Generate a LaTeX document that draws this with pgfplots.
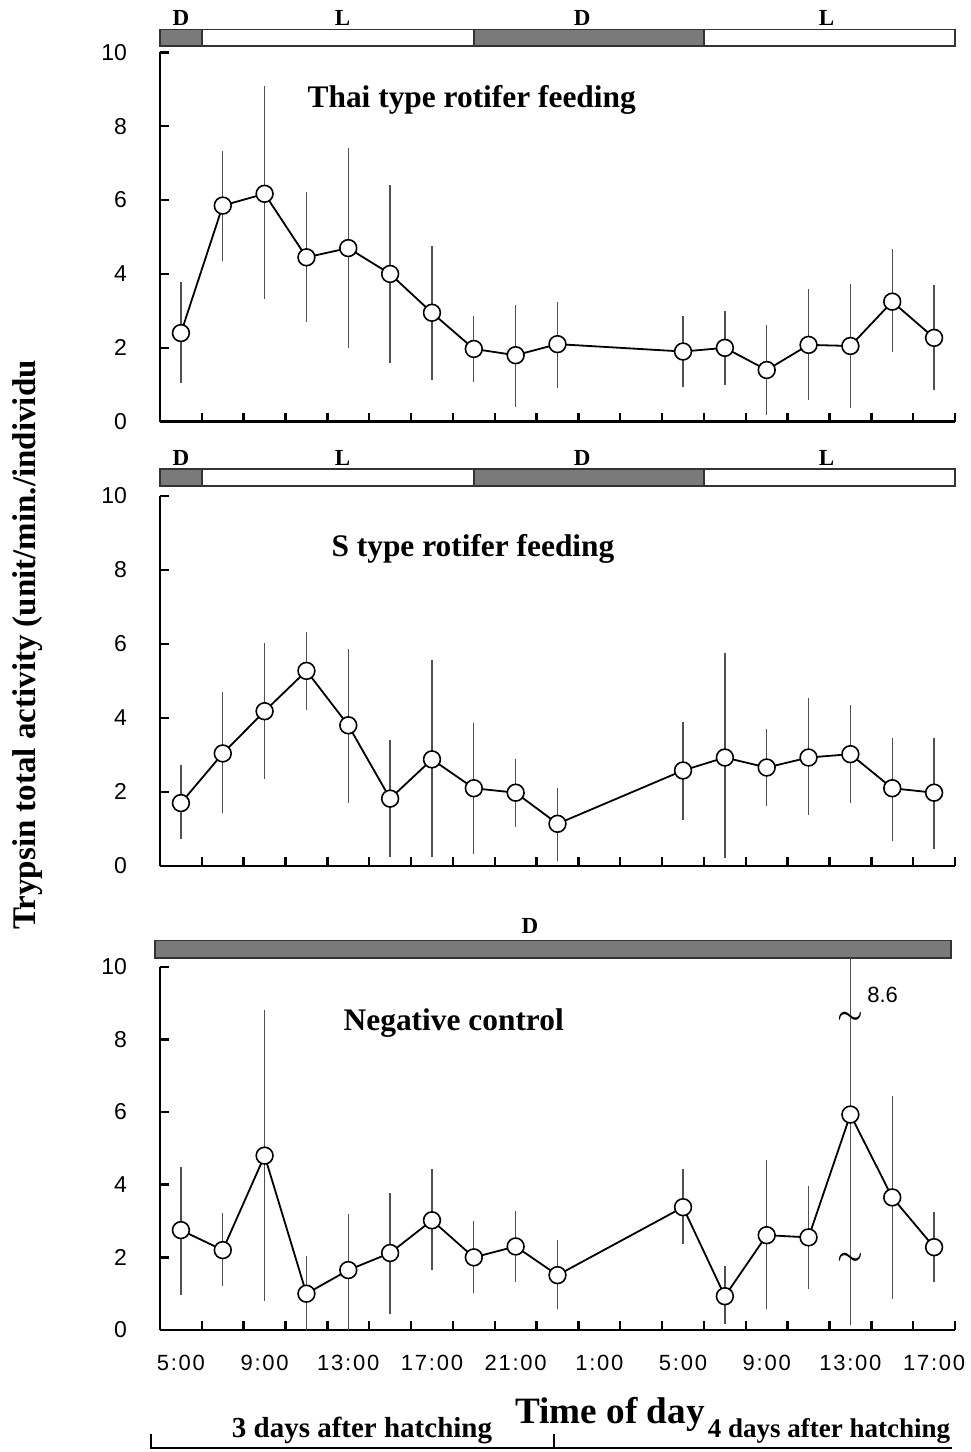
\documentclass[border=0pt]{standalone}
\usepackage{fontspec}
\setmainfont{Liberation Serif}
\setsansfont{Liberation Sans}
\newfontfamily\tickfont[LetterSpace=8]{Liberation Sans}
\usepackage{pgfplots}
\usepackage{pgfplotstable}
\pgfplotsset{compat=1.18}
\definecolor{darkbar}{RGB}{122,122,122}
\definecolor{errgray}{RGB}{80,80,80}

\pgfplotstableread{
x y ep em
0 2.40 1.38 1.36
1 5.85 1.47 1.51
2 6.17 2.93 2.84
3 4.45 1.78 1.75
4 4.70 2.70 2.70
5 4.00 2.40 2.42
6 2.95 1.80 1.83
7 1.97 0.90 0.90
8 1.80 1.37 1.39
9 2.10 1.15 1.20
12 1.90 0.95 0.95
13 2.00 1.00 1.00
14 1.40 1.22 1.21
15 2.08 1.50 1.48
16 2.05 1.69 1.67
17 3.25 1.42 1.36
18 2.27 1.42 1.42
}\thaidata

\pgfplotstableread{
x y ep em
0 1.70 1.02 0.97
1 3.04 1.66 1.60
2 4.18 1.85 1.82
3 5.27 1.06 1.06
4 3.80 2.07 2.09
5 1.82 1.58 1.58
6 2.88 2.69 2.64
7 2.10 1.76 1.77
8 1.98 0.90 0.92
9 1.14 0.98 1.00
12 2.58 1.31 1.33
13 2.93 2.83 2.71
14 2.66 1.04 1.03
15 2.93 1.61 1.54
16 3.02 1.33 1.31
17 2.10 1.35 1.42
18 1.98 1.47 1.52
}\sdata

\pgfplotstableread{
x y ep em
0 2.75 1.75 1.79
1 2.20 1.01 0.99
2 4.80 4.02 4.00
3 1.00 1.03 1.00
4 1.65 1.54 1.65
5 2.12 1.64 1.68
6 3.02 1.40 1.37
7 2.00 0.99 0.98
8 2.30 0.97 0.98
9 1.51 0.96 0.93
12 3.38 1.04 1.02
13 0.93 0.83 0.77
14 2.61 2.06 2.03
15 2.55 1.41 1.42
16 5.93 4.31 5.79
17 3.65 2.78 2.80
18 2.28 0.96 0.96
}\negdata

\tikzset{
  barlbl/.style={font=\bfseries\fontsize{11.5}{12}\selectfont},
  ptitle/.style={font=\bfseries\fontsize{15.7}{18}\selectfont},
  brk/.style={font=\fontsize{15}{15}\selectfont\boldmath, inner sep=0pt},
}
\pgfplotsset{
  panel/.style={
    scale only axis, width=397.5pt,
    xmin=-0.5, xmax=18.5, ymin=0, ymax=10,
    axis x line*=bottom, axis y line*=left,
    axis line style={line width=1.3pt, black},
    xtick={0,2,...,18}, xticklabels={},
    minor xtick={-0.5,0.5,...,18.5},
    major x tick style={draw=none},
    minor x tick style={line width=1.2pt, black},
    xtick align=inside, ytick align=inside,
    ytick={0,2,...,10},
    major y tick style={line width=1.2pt, black},
    major tick length=4.5pt, minor tick length=4.5pt,
    /pgf/number format/assume math mode=true,
    yticklabel style={font=\sffamily\fontsize{11.5}{12}\selectfont, xshift=-13pt},
    clip=false,
  },
  series/.style={black, line width=0.9pt, mark=*, mark size=4.2pt,
    mark options={fill=white, draw=black, line width=0.8pt},
    error bars/.cd, y dir=both, y explicit, error mark=none,
    error bar style={errgray, line width=0.65pt}},
}

\begin{document}
\begin{tikzpicture}
\useasboundingbox (0pt,0pt) rectangle (485pt,-726pt);

% ---------- Panel 1 ----------
\begin{axis}[panel, at={(80pt,-210.85pt)}, anchor=south west, height=184.7pt]
\draw[line width=0.7pt, draw=black!80, fill=darkbar] (axis cs:-0.5,10.17) rectangle (axis cs:0.5,10.62);
\draw[line width=0.7pt, draw=black!80, fill=white] (axis cs:0.5,10.17) rectangle (axis cs:7,10.62);
\draw[line width=0.7pt, draw=black!80, fill=darkbar] (axis cs:7,10.17) rectangle (axis cs:12.5,10.62);
\draw[line width=0.7pt, draw=black!80, fill=white] (axis cs:12.5,10.17) rectangle (axis cs:18.5,10.62);
\node[barlbl] at (axis cs:0,10.92) {D};
\node[barlbl] at (axis cs:3.86,10.92) {L};
\node[barlbl] at (axis cs:9.59,10.92) {D};
\node[barlbl] at (axis cs:15.43,10.92) {L};
\node[ptitle] at (axis cs:6.95,8.71) {Thai type rotifer feeding};
\addplot[series] table[x=x, y=y, y error plus=ep, y error minus=em] {\thaidata};
\end{axis}

% ---------- Panel 2 ----------
\begin{axis}[panel, at={(80pt,-433pt)}, anchor=south west, height=185.15pt]
\draw[line width=0.7pt, draw=black!80, fill=darkbar] (axis cs:-0.5,10.26) rectangle (axis cs:0.5,10.72);
\draw[line width=0.7pt, draw=black!80, fill=white] (axis cs:0.5,10.26) rectangle (axis cs:7,10.72);
\draw[line width=0.7pt, draw=black!80, fill=darkbar] (axis cs:7,10.26) rectangle (axis cs:12.5,10.72);
\draw[line width=0.7pt, draw=black!80, fill=white] (axis cs:12.5,10.26) rectangle (axis cs:18.5,10.72);
\node[barlbl] at (axis cs:0,11.02) {D};
\node[barlbl] at (axis cs:3.86,11.02) {L};
\node[barlbl] at (axis cs:9.59,11.02) {D};
\node[barlbl] at (axis cs:15.43,11.02) {L};
\node[ptitle] at (axis cs:6.98,8.56) {S type rotifer feeding};
\addplot[series] table[x=x, y=y, y error plus=ep, y error minus=em] {\sdata};
\end{axis}

% ---------- Panel 3 ----------
\begin{axis}[panel, at={(80pt,-665pt)}, anchor=south west, height=181.65pt,
  xticklabels={5:00,9:00,13:00,17:00,21:00,1:00,5:00,9:00,13:00,17:00},
  xticklabel style={font=\tickfont\fontsize{11}{12}\selectfont, yshift=-9pt}]
\draw[line width=0.7pt, draw=black!80, fill=darkbar] (axis cs:-0.62,10.24) rectangle (axis cs:18.4,10.72);
\node[barlbl] at (axis cs:8.34,11.12) {D};
\node[ptitle] at (axis cs:6.52,8.45) {Negative control};
\addplot[series] table[x=x, y=y, y error plus=ep, y error minus=em] {\negdata};
\node[brk] at (axis cs:16,8.59) {$\sim$};
\node[brk] at (axis cs:16,1.95) {$\sim$};
\node[font=\sffamily\fontsize{11}{12}\selectfont] at (axis cs:16.77,9.22) {8.6};
\end{axis}

% ---------- outer labels ----------
\node[rotate=90, font=\bfseries\fontsize{16.5}{18}\selectfont] at (14pt,-322.5pt) {Trypsin total activity (unit/min./individu};
\node[anchor=base, font=\bfseries\fontsize{18.6}{20}\selectfont] at (305pt,-711.5pt) {Time of day};
\node[anchor=base, font=\bfseries\fontsize{14.5}{17}\selectfont] at (181pt,-718.5pt) {3 days after hatching};
\node[anchor=base, font=\bfseries\fontsize{13.5}{17}\selectfont] at (414.5pt,-718.5pt) {4 days after hatching};
\draw[line width=1.2pt] (75.5pt,-717pt) -- (75.5pt,-724pt) -- (476pt,-724pt);
\draw[line width=1.2pt] (277pt,-717pt) -- (277pt,-724pt);
\end{tikzpicture}
\end{document}
